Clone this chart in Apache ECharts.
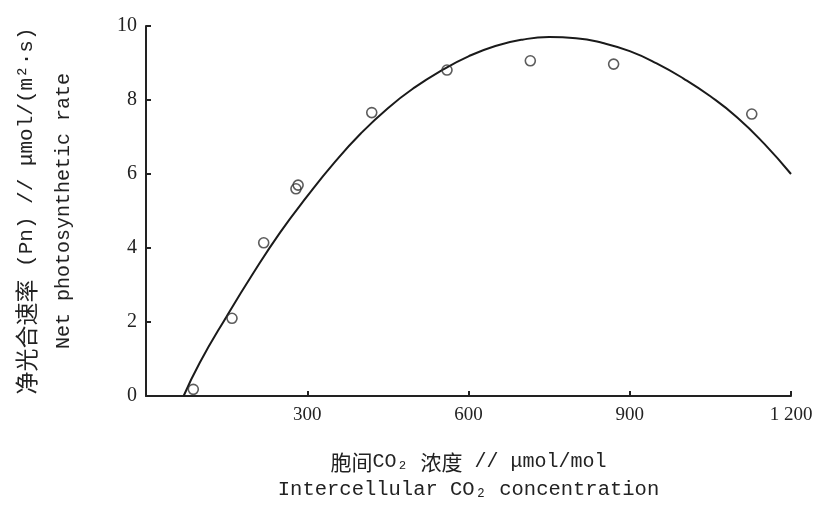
<!DOCTYPE html>
<html>
<head>
<meta charset="utf-8">
<script src="https://cdn.jsdelivr.net/npm/echarts/dist/echarts.min.js"></script>
<style>
  html, body { margin: 0; padding: 0; background: #fff; }
  #chart { width: 819px; height: 507px; }
</style>
</head>
<body>
<div id="chart"></div>
<script>
// 实测点（胞间CO2浓度, 净光合速率）
var co2Obs = [88, 160, 219, 279, 283, 420, 560, 715, 870, 1127];
var pnObs = [0.18, 2.1, 4.14, 5.6, 5.7, 7.66, 8.81, 9.06, 8.97, 7.62];

// 拟合曲线（从图上读取的点）
var co2Fit = [70, 100, 150, 200, 250, 300, 350, 400, 450, 500, 550, 600, 650, 700, 750, 800, 850, 900, 950, 1000, 1050, 1100, 1150, 1200];
var pnFit = [0, 0.9, 2.15, 3.33, 4.43, 5.4, 6.3, 7.1, 7.78, 8.34, 8.8, 9.18, 9.46, 9.63, 9.7, 9.67, 9.54, 9.32, 8.99, 8.58, 8.1, 7.53, 6.82, 6.0];

var serif = "'Liberation Serif', 'DejaVu Serif', serif";
var mono = "'Liberation Mono', 'DejaVu Sans Mono', monospace";
var cjk = "'Noto Sans CJK SC', sans-serif";

function pairs(xs, ys) {
  var out = [];
  for (var i = 0; i < xs.length; i++) out.push([xs[i], ys[i]]);
  return out;
}

var myChart = echarts.init(document.getElementById('chart'));
var option = {
  backgroundColor: '#fff',
  animation: false,
  grid: { left: 146, right: 28, top: 26, bottom: 111 },
  xAxis: {
    type: 'value',
    min: 0,
    max: 1200,
    interval: 300,
    splitLine: { show: false },
    axisLine: { lineStyle: { color: '#222', width: 2 } },
    axisTick: { inside: true, length: 5, lineStyle: { color: '#222', width: 2 } },
    axisLabel: {
      color: '#222', fontFamily: serif, fontSize: 19, margin: 10,
      formatter: function(v) {
        if (v === 0) return '';
        return v >= 1000 ? String(v).replace(/(\d)(\d{3})$/, '$1 $2') : String(v);
      }
    },
    name: '{cn|胞间}{lat|CO₂ }{cn|浓度}{lat| // μmol/mol}\n{en|Intercellular CO₂ concentration}',
    nameLocation: 'middle',
    nameGap: 52,
    nameTextStyle: {
      rich: {
        cn: { fontFamily: cjk, fontSize: 21, color: '#222', lineHeight: 28 },
        lat: { fontFamily: mono, fontSize: 20, color: '#222', lineHeight: 28 },
        en: { fontFamily: mono, fontSize: 20.5, color: '#222', lineHeight: 28 }
      }
    }
  },
  yAxis: {
    type: 'value',
    min: 0,
    max: 10,
    interval: 2,
    splitLine: { show: false },
    axisLine: { lineStyle: { color: '#222', width: 2 } },
    axisTick: { inside: true, length: 5, lineStyle: { color: '#222', width: 2 } },
    axisLabel: { color: '#222', fontFamily: serif, fontSize: 20, margin: 9 },
    name: '{cn|净光合速率}{lat| (Pn) // μmol/(m²·s)}\n{en|Net photosynthetic rate}',
    nameLocation: 'middle',
    nameRotate: 90,
    nameGap: 63,
    nameTextStyle: {
      rich: {
        cn: { fontFamily: cjk, fontSize: 23, color: '#222', lineHeight: 38 },
        lat: { fontFamily: mono, fontSize: 21, color: '#222', lineHeight: 38 },
        en: { fontFamily: mono, fontSize: 20, color: '#222', lineHeight: 38 }
      }
    }
  },
  series: [{
    type: 'line',
    data: pairs(co2Fit, pnFit),
    smooth: true,
    showSymbol: false,
    lineStyle: { color: '#1a1a1a', width: 2 },
    z: 2
  }, {
    type: 'scatter',
    data: pairs(co2Obs, pnObs),
    symbol: 'circle',
    symbolSize: 10,
    itemStyle: { color: 'rgba(255,255,255,0)', borderColor: '#333', borderWidth: 1.6 },
    z: 3
  }]
};
myChart.setOption(option);
</script>
</body>
</html>
